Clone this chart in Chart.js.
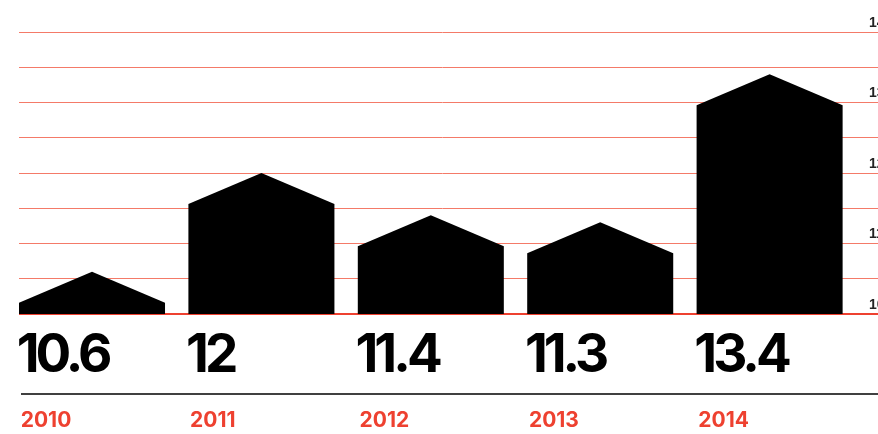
<!DOCTYPE html>
<html>
<head>
<meta charset="utf-8">
<script src="https://cdn.jsdelivr.net/npm/chart.js@4"></script>
<style>
  html, body { margin: 0; padding: 0; background: #fff; }
  #wrap { width: 878px; height: 434px; }
</style>
</head>
<body>
<div id="wrap"><canvas id="chart"></canvas></div>
<script>
const years = ['2010', '2011', '2012', '2013', '2014'];
const values = [10.6, 12, 11.4, 11.3, 13.4];
const yTicks = [10, 11, 12, 13, 14];

const RED = '#ee4130';
const ROOF = 31;

// draws each bar as a little house: the peak sits on the value
const houses = {
    id: 'houses',
    afterDatasetsDraw(chart) {
        const ctx = chart.ctx;
        const {x, y} = chart.scales;
        const catW = x.width / years.length;
        const base = y.getPixelForValue(y.min);
        ctx.save();
        ctx.fillStyle = '#000';
        chart.getDatasetMeta(0).data.forEach(bar => {
            const left = bar.x - catW / 2;
            const right = left + bar.width;
            ctx.beginPath();
            ctx.moveTo(left, base);
            ctx.lineTo(left, bar.y + ROOF);
            ctx.lineTo((left + right) / 2, bar.y);
            ctx.lineTo(right, bar.y + ROOF);
            ctx.lineTo(right, base);
            ctx.closePath();
            ctx.fill();
        });
        ctx.restore();
    }
};

// black rule between the values and the years, runs to the right edge
const rule = {
    id: 'rule',
    afterDraw(chart) {
        const ctx = chart.ctx;
        const x = chart.scales.x;
        ctx.save();
        ctx.strokeStyle = '#000';
        ctx.lineWidth = 1.5;
        ctx.beginPath();
        ctx.moveTo(x.left + 2, x.top);
        ctx.lineTo(chart.width, x.top);
        ctx.stroke();
        ctx.restore();
    }
};

// big value labels are set tight
const tightLabels = {
    id: 'tightLabels',
    afterLayout(chart) {
        const s = chart.scales.xv;
        const drawBase = Object.getPrototypeOf(s).drawLabels;
        s.drawLabels = function(area) {
            const c = this.ctx;
            c.save();
            c.letterSpacing = '-4px';
            drawBase.call(this, area);
            c.restore();
        };
    }
};

const noSidePadding = s => { s.paddingLeft = 0; s.paddingRight = 0; };

new Chart(document.getElementById('chart'), {
    type: 'bar',
    data: {
        labels: years,
        datasets: [{
            data: values,
            backgroundColor: 'rgba(0,0,0,0)',
            borderWidth: 0,
            barPercentage: 1,
            categoryPercentage: 0.862
        }]
    },
    plugins: [houses, tightLabels, rule],
    options: {
        responsive: true,
        maintainAspectRatio: false,
        animation: false,
        layout: { padding: { left: 19, top: 32, right: 0, bottom: 0 } },
        plugins: {
            legend: { display: false },
            tooltip: { enabled: false }
        },
        scales: {
            y: {
                position: 'right',
                min: 10,
                max: 14,
                afterFit: s => { s.width = 12; s.paddingTop = 0; s.paddingBottom = 0; },
                afterBuildTicks: s => {
                    s.ticks = [];
                    for (let i = 0; i < yTicks.length * 2 - 1; i++) s.ticks.push({ value: yTicks[0] + i / 2 });
                },
                border: { display: false },
                grid: {
                    color: c => c.tick && c.tick.value === yTicks[0] ? RED : '#f47a68',
                    lineWidth: c => c.tick && c.tick.value === yTicks[0] ? 2 : 1,
                    tickLength: 12
                },
                ticks: {
                    callback: v => yTicks.includes(v) ? String(v) : '',
                    crossAlign: 'near',
                    padding: -9,
                    labelOffset: -9,
                    color: '#222',
                    font: { family: 'Liberation Sans', size: 14, weight: 700 }
                }
            },
            xv: {
                type: 'category',
                position: 'bottom',
                weight: 0,
                labels: values.map(String),
                afterFit: s => { s.height = 80; noSidePadding(s); },
                grid: { display: false, drawTicks: false },
                border: { display: false },
                ticks: {
                    align: 'start',
                    labelOffset: -87,
                    padding: 16,
                    maxRotation: 0,
                    autoSkip: false,
                    color: '#000',
                    font: { family: 'Inter', size: 53, weight: 700, lineHeight: 1 }
                }
            },
            x: {
                position: 'bottom',
                weight: 1,
                afterFit: s => { s.height = 40; noSidePadding(s); },
                grid: { display: false, drawTicks: false },
                border: { display: false },
                ticks: {
                    align: 'start',
                    labelOffset: -83,
                    padding: 16,
                    maxRotation: 0,
                    autoSkip: false,
                    color: RED,
                    font: { family: 'Inter', size: 21, weight: 700, lineHeight: 1 }
                }
            }
        }
    }
});
</script>
</body>
</html>
